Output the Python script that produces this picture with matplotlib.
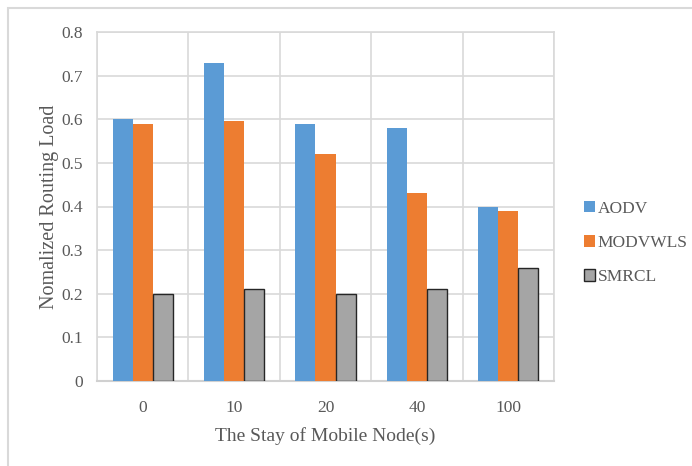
import matplotlib
matplotlib.use("Agg")
import matplotlib.pyplot as plt
from matplotlib.patches import Rectangle
import numpy as np

categories = ["0", "10", "20", "40", "100"]
aodv = [0.60, 0.73, 0.59, 0.58, 0.40]
modvwls = [0.59, 0.595, 0.52, 0.43, 0.39]
smrcl = [0.20, 0.21, 0.20, 0.21, 0.26]
series_names = ["AODV", "MODVWLS", "SMRCL"]
yticks = [0, 0.1, 0.2, 0.3, 0.4, 0.5, 0.6, 0.7, 0.8]
ytick_labels = ["0", "0.1", "0.2", "0.3", "0.4", "0.5", "0.6", "0.7", "0.8"]

W, H = 692, 466
fig = plt.figure(figsize=(W / 100, H / 100), dpi=100)
plt.rcParams["font.family"] = ["Liberation Serif", "DejaVu Serif"]
text_color = "#595959"
grid_color = "#d9d9d9"

# outer chart frame
fig.patches.append(Rectangle((8 / W, -0.05), 1.2, 1 - 8 / H + 0.05,
                             transform=fig.transFigure, fill=False,
                             edgecolor="#d9d9d9", linewidth=1.5))

ax = fig.add_axes([97 / W, 1 - 381 / H, (554 - 97) / W, (381 - 32) / H])

x = np.arange(len(categories))
bw = 0.22
colors = ["#5b9bd5", "#ed7d31", "#a5a5a5"]
b1 = ax.bar(x - bw, aodv, bw, color=colors[0], zorder=3, label=series_names[0])
b2 = ax.bar(x, modvwls, bw, color=colors[1], zorder=3, label=series_names[1])
b3 = ax.bar(x + bw, smrcl, bw, color=colors[2], edgecolor="#262626",
            linewidth=1.0, zorder=3, label=series_names[2])

ax.set_xlim(-0.5, len(categories) - 0.5)
ax.set_ylim(0, 0.8)
ax.set_yticks(yticks)
ax.set_yticklabels(ytick_labels)
ax.set_xticks(x)
ax.set_xticklabels(categories)

# category boundary gridlines
ax.set_xticks(np.arange(len(categories) + 1) - 0.5, minor=True)
ax.grid(True, which="minor", axis="x", color=grid_color, linewidth=1.2, zorder=0)
ax.grid(True, which="major", axis="y", color=grid_color, linewidth=1.2, zorder=0)
ax.tick_params(axis="both", which="both", length=0, colors=text_color, labelsize=12.5)
ax.tick_params(axis="x", pad=14)
ax.tick_params(axis="y", pad=10)

for s in ["top", "right", "left"]:
    ax.spines[s].set_color(grid_color)
    ax.spines[s].set_linewidth(1.2)
ax.spines["bottom"].set_color("#d0d0d0")
ax.spines["bottom"].set_linewidth(1.5)

ax.set_xlabel("The Stay of Mobile Node(s)", fontsize=14, color=text_color, labelpad=8)
ax.set_ylabel("Nomalized Routing Load", fontsize=14.5, color=text_color, labelpad=2)

leg = fig.legend(handles=[b1, b2, b3], loc="upper left",
                 bbox_to_anchor=(568 / W, 1 - 185 / H), frameon=False,
                 fontsize=12.5, handlelength=0.65, handleheight=0.65,
                 handletextpad=0.15, labelspacing=1.05, labelcolor=text_color)

fig.savefig("out.png", dpi=100, facecolor="white")
